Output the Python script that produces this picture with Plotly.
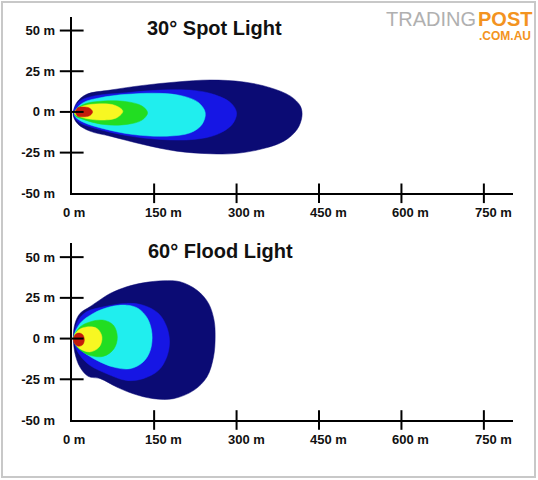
import plotly.graph_objects as go

W, H = 538, 480

# ---------------- DATA (metres) ----------------
x_tickvals = [0, 150, 300, 450, 600, 750]
x_ticktext = ["0 m", "150 m", "300 m", "450 m", "600 m", "750 m"]
y_tickvals = [50, 25, 0, -25, -50]
y_ticktext = ["50 m", "25 m", "0 m", "-25 m", "-50 m"]

spot_title = "30° Spot Light"
flood_title = "60° Flood Light"

# 30° spot light zones (outer to inner)
spot_navy_x = [3, 9, 27, 70, 130, 191, 252, 313, 361, 398, 416, 419, 410, 386, 343, 295, 252, 191, 130, 70, 33, 12, 4]
spot_navy_y = [-0.5, 5.7, 10.8, 13.4, 16.3, 18.4, 19.6, 18.4, 14.9, 9.7, 3.6, -2.6, -10.8, -18, -23, -25.6, -25.7, -24.1, -20, -14.9, -11.8, -7.7, -3.6]
spot_blue_x = [4, 15, 39, 100, 161, 222, 258, 289, 300, 292, 264, 222, 161, 100, 39, 15, 4]
spot_blue_y = [1.5, 6.7, 9.7, 11.8, 13.4, 13.2, 10.8, 5.7, -0.5, -7.7, -13.9, -16.9, -16.9, -14.5, -9.7, -6.7, -2.6]
spot_cyan_x = [6, 21, 52, 100, 161, 203, 231, 243, 237, 216, 173, 112, 58, 21, 6]
spot_cyan_y = [0.5, 5.7, 8.7, 10.8, 11.4, 9.7, 5.7, -0.5, -7.7, -12.8, -14.9, -13.9, -10.3, -6.3, -2.6]
spot_green_x = [6, 21, 58, 100, 128, 138, 128, 100, 58, 21, 6]
spot_green_y = [0.5, 4.6, 6.7, 6.3, 3.6, -0.5, -5, -7.7, -7.7, -4.6, -2.2]
spot_yellow_x = [6, 21, 52, 79, 93, 82, 52, 21, 6]
spot_yellow_y = [0.5, 3.6, 5, 4, 0.5, -3.6, -5, -3.6, -1.5]
spot_red_x = [7, 11, 21, 32, 38, 32, 21, 11]
spot_red_y = [0, 2.6, 3.0, 2.4, 0, -2.4, -3.0, -2.6]

# 60° flood light zones (outer to inner)
flood_navy_x = [3, 6, 15, 33, 46, 70, 100, 130, 167, 197, 228, 249, 259, 261, 258, 246, 222, 185, 149, 112, 82, 52, 30, 15, 6]
flood_navy_y = [1, 9.2, 15.4, 19.5, 22.5, 27.7, 31.8, 34.2, 35.5, 34.9, 29.7, 21.6, 11.3, 1, -11.3, -23.6, -31.8, -36.9, -36.9, -33.9, -29.8, -24.6, -23.2, -17.5, -9.2]
flood_blue_x = [4, 12, 27, 58, 100, 130, 158, 173, 178, 173, 158, 130, 100, 64, 33, 15, 6]
flood_blue_y = [2, 11.3, 16.4, 19.5, 21.6, 20.5, 15.4, 7.1, -2.1, -11.3, -19.5, -24.6, -25.7, -21.6, -16.4, -10.3, -4.1]
flood_cyan_x = [4, 15, 39, 70, 100, 121, 138, 146, 143, 130, 106, 76, 46, 21, 8]
flood_cyan_y = [1, 9.2, 15.4, 19.5, 20.5, 18.5, 12.3, 3.1, -7.2, -14.4, -18.5, -17.5, -13.4, -8.2, -4.1]
flood_green_x = [4, 15, 33, 58, 76, 83, 77, 58, 33, 15, 6]
flood_green_y = [1, 7.1, 10.2, 11.3, 8.2, 1, -6.2, -10.9, -10.3, -6.8, -3.1]
flood_yellow_x = [4, 12, 27, 46, 55, 50, 33, 15, 6]
flood_yellow_y = [1, 5.1, 7.1, 6.2, 1, -5.2, -8.2, -6.2, -3.1]
flood_red_x = [3, 7, 13, 20, 23, 20, 13, 7]
flood_red_y = [-0.7, 2.6, 3.4, 2.4, -0.7, -3.8, -4.7, -3.8]

zone_colors = ["#0b0b74", "#1616e4", "#20eeee", "#22dd22", "#f7f722", "#c41a0c"]

# ---------------- LAYOUT (pixel geometry) ----------------
def px_x(p):
    return p / W

def px_y(p):
    return 1 - p / H

X_LEFT, X_RIGHT = 71.7, 513
TOP_Y0, TOP_Y1 = 16.7, 193.3
BOT_Y0, BOT_Y1 = 243.3, 420

FONT = "Liberation Sans, Arial, sans-serif"
TICKFONT = dict(family=FONT, size=13, color="#111111", weight="bold")

fig = go.Figure()

spot_zones = [(spot_navy_x, spot_navy_y), (spot_blue_x, spot_blue_y), (spot_cyan_x, spot_cyan_y),
              (spot_green_x, spot_green_y), (spot_yellow_x, spot_yellow_y), (spot_red_x, spot_red_y)]
flood_zones = [(flood_navy_x, flood_navy_y), (flood_blue_x, flood_blue_y), (flood_cyan_x, flood_cyan_y),
               (flood_green_x, flood_green_y), (flood_yellow_x, flood_yellow_y), (flood_red_x, flood_red_y)]

annotations = []
for (zones, xa, ya) in [(spot_zones, "x", "y"), (flood_zones, "x2", "y2")]:
    for (zx, zy), col in zip(zones, zone_colors):
        fig.add_trace(go.Scatter(
            x=list(zx) + [zx[0]], y=list(zy) + [zy[0]],
            mode="lines", fill="toself", fillcolor=col,
            line=dict(color=col, width=0.5, shape="spline", smoothing=1.0),
            hoverinfo="skip", showlegend=False, xaxis=xa, yaxis=ya))
    # crossing tick marks
    fig.add_trace(go.Scatter(
        x=[0] * 4, y=y_tickvals[:4], mode="markers",
        marker=dict(symbol="line-ew", size=17, line=dict(width=2, color="black")),
        cliponaxis=False, hoverinfo="skip", showlegend=False, xaxis=xa, yaxis=ya))
    fig.add_trace(go.Scatter(
        x=x_tickvals[1:], y=[-50] * 5, mode="markers",
        marker=dict(symbol="line-ns", size=14, line=dict(width=2, color="black")),
        cliponaxis=False, hoverinfo="skip", showlegend=False, xaxis=xa, yaxis=ya))
    # x tick labels (number roughly centred on its tick, unit trailing)
    for tv, tt in zip(x_tickvals, x_ticktext):
        annotations.append(dict(
            text=tt, xref=xa, yref=ya, x=tv, y=-50, xanchor="left", yanchor="middle",
            xshift=-11, yshift=-19, showarrow=False, font=TICKFONT))

xaxis_common = dict(
    range=[0, 803], showticklabels=False, ticks="",
    showgrid=False, zeroline=False, showline=True, linecolor="black", linewidth=2,
    automargin=False,
    domain=[px_x(X_LEFT), px_x(X_RIGHT)], fixedrange=True)
yaxis_common = dict(
    range=[-50, 58.5], tickvals=y_tickvals, ticktext=y_ticktext,
    showgrid=False, zeroline=False, showline=True, linecolor="black", linewidth=2,
    ticks="outside", ticklen=12, tickcolor="rgba(0,0,0,0)", automargin=False,
    tickfont=TICKFONT, fixedrange=True)

annotations += [
    dict(text=spot_title, xref="paper", yref="paper", x=px_x(145), y=px_y(28),
         xanchor="left", yanchor="middle", showarrow=False,
         font=dict(family=FONT, size=20, color="#111111", weight="bold")),
    dict(text=flood_title, xref="paper", yref="paper", x=px_x(146), y=px_y(251),
         xanchor="left", yanchor="middle", showarrow=False,
         font=dict(family=FONT, size=20, color="#111111", weight="bold")),
    dict(text="TRADING", xref="paper", yref="paper", x=px_x(477), y=px_y(19),
         xanchor="right", yanchor="middle", showarrow=False, borderpad=0,
         font=dict(family=FONT, size=20, color="#b0b0b0")),
    dict(text="POST", xref="paper", yref="paper", x=px_x(477), y=px_y(19),
         xanchor="left", yanchor="middle", showarrow=False, borderpad=0,
         font=dict(family=FONT, size=20, color="#f39320", weight="bold")),
    dict(text=".COM.AU", xref="paper", yref="paper", x=px_x(532), y=px_y(36),
         xanchor="right", yanchor="middle", showarrow=False, borderpad=0,
         font=dict(family=FONT, size=12, color="#f39320", weight="bold")),
]

fig.update_layout(
    width=W, height=H, autosize=False,
    margin=dict(l=0, r=0, t=0, b=0, pad=0),
    paper_bgcolor="white", plot_bgcolor="rgba(0,0,0,0)",
    xaxis=dict(**xaxis_common, anchor="y"),
    yaxis=dict(**yaxis_common, anchor="x", domain=[px_y(TOP_Y1), px_y(TOP_Y0)]),
    xaxis2=dict(**xaxis_common, anchor="y2"),
    yaxis2=dict(**yaxis_common, anchor="x2", domain=[px_y(BOT_Y1), px_y(BOT_Y0)]),
    shapes=[dict(type="rect", xref="paper", yref="paper",
                 x0=px_x(2), x1=px_x(535), y0=px_y(477), y1=px_y(2),
                 line=dict(color="#c8c8c8", width=2), fillcolor="rgba(0,0,0,0)", layer="below")],
    annotations=annotations,
)

fig.write_html("out.html", config={"displayModeBar": False},
               post_script="document.body.style.margin='0';document.body.style.padding='0';"
                           "document.body.style.overflow='hidden';")
